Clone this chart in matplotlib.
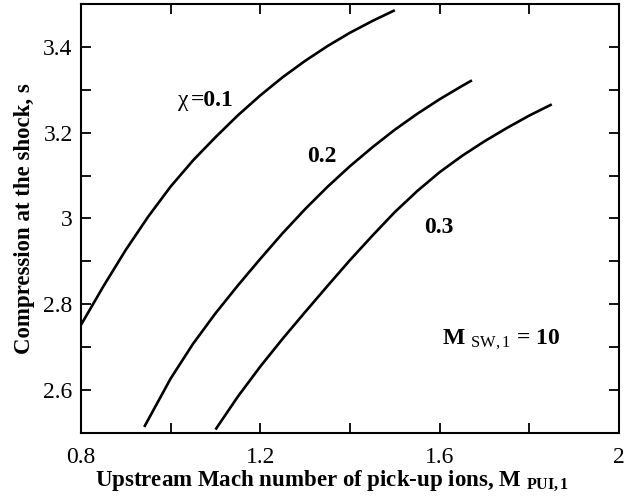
import numpy as np
import matplotlib.pyplot as plt
from matplotlib.ticker import FixedLocator

plt.rcParams['font.family'] = ['Liberation Serif', 'DejaVu Serif']
plt.rcParams['mathtext.fontset'] = 'custom'
plt.rcParams['mathtext.rm'] = 'Liberation Serif'
plt.rcParams['mathtext.it'] = 'Liberation Serif:italic'
plt.rcParams['mathtext.bf'] = 'Liberation Serif:bold'

# curves, chi = 0.1, 0.2, 0.3
m_01 = [0.80, 0.85, 0.90, 0.95, 1.00, 1.05, 1.10, 1.15, 1.20, 1.25, 1.30, 1.35, 1.40, 1.45, 1.50]
s_01 = [2.752, 2.842, 2.927, 3.0045, 3.0745, 3.1355, 3.1895, 3.2405, 3.287, 3.3295,
        3.3675, 3.402, 3.433, 3.4605, 3.4855]

m_02 = [0.941, 1.00, 1.05, 1.10, 1.15, 1.20, 1.25, 1.30, 1.35, 1.40, 1.45, 1.50, 1.55, 1.60, 1.65, 1.672]
s_02 = [2.514, 2.627, 2.708, 2.779, 2.844, 2.906, 2.966, 3.022, 3.074, 3.122, 3.166,
        3.207, 3.244, 3.278, 3.309, 3.322]

m_03 = [1.10, 1.15, 1.20, 1.25, 1.30, 1.35, 1.40, 1.45, 1.50, 1.55, 1.60, 1.65, 1.70, 1.75, 1.80, 1.85]
s_03 = [2.508, 2.585, 2.655, 2.720, 2.782, 2.843, 2.903, 2.960, 3.015, 3.064, 3.108,
        3.146, 3.180, 3.211, 3.240, 3.266]

fig = plt.figure(figsize=(6.24, 4.99), dpi=100)
ax = fig.add_axes([0.1298, 0.1323, 0.8622, 0.8597])

for m, s in [(m_01, s_01), (m_02, s_02), (m_03, s_03)]:
    ax.plot(m, s, color='black', lw=1.9, solid_capstyle='butt', solid_joinstyle='round')

ax.set_xlim(0.8, 2.0)
ax.set_ylim(2.5, 3.5)

ax.xaxis.set_major_locator(FixedLocator([0.8, 1.2, 1.6, 2.0]))
ax.xaxis.set_minor_locator(FixedLocator([1.0, 1.4, 1.8]))
ax.yaxis.set_major_locator(FixedLocator([2.6, 2.8, 3.0, 3.2, 3.4]))
ax.yaxis.set_minor_locator(FixedLocator([2.7, 2.9, 3.1, 3.3]))
ax.set_xticklabels(['0.8', '1.2', '1.6', '2'])
ax.set_yticklabels(['2.6', '2.8', '3', '3.2', '3.4'])

ax.tick_params(which='both', direction='in', top=True, right=True,
               length=7, width=1.3, labelsize=17)
ax.tick_params(axis='x', pad=10)
ax.tick_params(axis='y', pad=6)
for sp in ax.spines.values():
    sp.set_linewidth(1.5)

ax.set_xlabel(r'Upstream Mach number of pick-up ions, M ${}_{\mathbf{PUI,1}}$',
              fontsize=16.5, fontweight='bold')
ax.xaxis.set_label_coords(0.4665, -0.085)
ax.set_ylabel('Compression at the shock, s', fontsize=16.5, fontweight='bold', labelpad=6)

ax.text(1.039, 3.276, 'χ', fontsize=17, ha='right', va='center')
ax.text(1.046, 3.276, '=0.1', fontsize=17, fontweight='bold', ha='left', va='center')
ax.text(1.338, 3.144, '0.2', fontsize=17, fontweight='bold', ha='center', va='center')
ax.text(1.597, 2.980, '0.3', fontsize=17, fontweight='bold', ha='center', va='center')
ax.text(1.605, 2.717, r'M ${}_{\mathrm{SW,1}}$ = 10', fontsize=17, fontweight='bold',
        ha='left', va='center')

fig.savefig('out.png', dpi=100)
